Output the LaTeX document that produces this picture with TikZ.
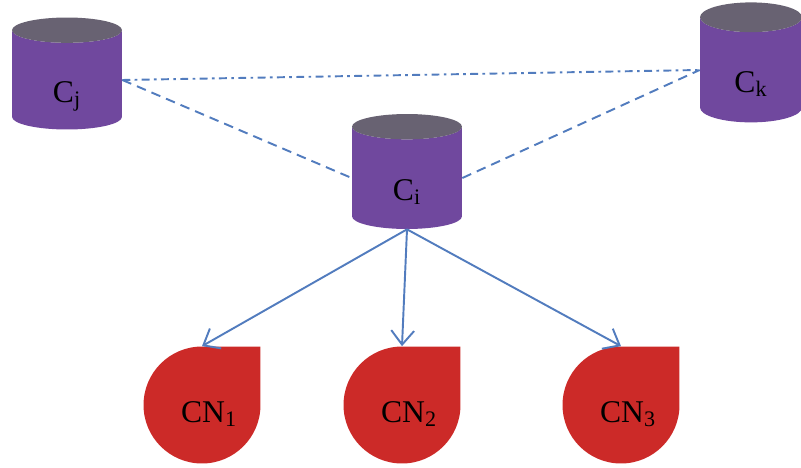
\documentclass[tikz,border=0pt]{standalone}
\usepackage{fontspec}
\setmainfont{Liberation Serif}
\usepackage{tikz}
\usetikzlibrary{shapes.geometric,arrows.meta}
\definecolor{dbbody}{RGB}{112,72,158}
\definecolor{dbtop}{RGB}{104,98,114}
\definecolor{cnred}{RGB}{204,42,40}
\definecolor{linkblue}{RGB}{82,124,190}
\tikzset{
  dbnode/.style={cylinder, shape border rotate=90, aspect=0.9,
    cylinder uses custom fill, cylinder body fill=dbbody, cylinder end fill=dbtop,
    minimum width=2.2cm, minimum height=2.24cm, inner sep=0pt,
    text height=0.88cm, text depth=0pt,
    font=\fontsize{18}{20}\selectfont},
  cnnode/.style={rectangle, minimum size=2.34cm, inner sep=0pt,
    text height=0.68cm, text depth=0pt,
    font=\fontsize{18}{20}\selectfont,
    path picture={\fill[cnred] (path picture bounding box.north)
      -- (path picture bounding box.north east)
      -- (path picture bounding box.east)
      arc[start angle=0, end angle=-270, radius=1.17cm] -- cycle;}},
  peer/.style={linkblue, line width=1.1pt, dash pattern=on 5.5pt off 3.5pt},
  peerfar/.style={linkblue, line width=1.1pt, dash pattern=on 4.5pt off 2.5pt on 1.5pt off 2.5pt},
  child/.style={linkblue, line width=1.1pt, -{Straight Barb[length=8pt,width=13pt]}}
}
\begin{document}
\begin{tikzpicture}[x=0.02cm, y=-0.02cm]
  \useasboundingbox (0,0) rectangle (801,467);
  \node[dbnode] (cj) at (67,80) {C\textsubscript{j}};
  \node[dbnode, minimum height=2.3cm] (ci) at (407,178) {C\textsubscript{i}};
  \node[dbnode, minimum width=2.04cm, minimum height=2.4cm] (ck) at (751,70) {C\textsubscript{k}};
  \node[cnnode] (cn1) at (202,405) {\hspace{8pt}CN\textsubscript{1}};
  \node[cnnode] (cn2) at (402,405) {\hspace{8pt}CN\textsubscript{2}};
  \node[cnnode] (cn3) at (621,405) {\hspace{8pt}CN\textsubscript{3}};
  \draw[peerfar] (cj.east) to (ck.west);
  \draw[peer] (cj.east) to (ci.west);
  \draw[peer] (ci.east) to (ck.west);
  \draw[child] (ci.south) to (cn1.north);
  \draw[child] (ci.south) to (cn2.north);
  \draw[child] (ci.south) to (cn3.north);
\end{tikzpicture}
\end{document}
